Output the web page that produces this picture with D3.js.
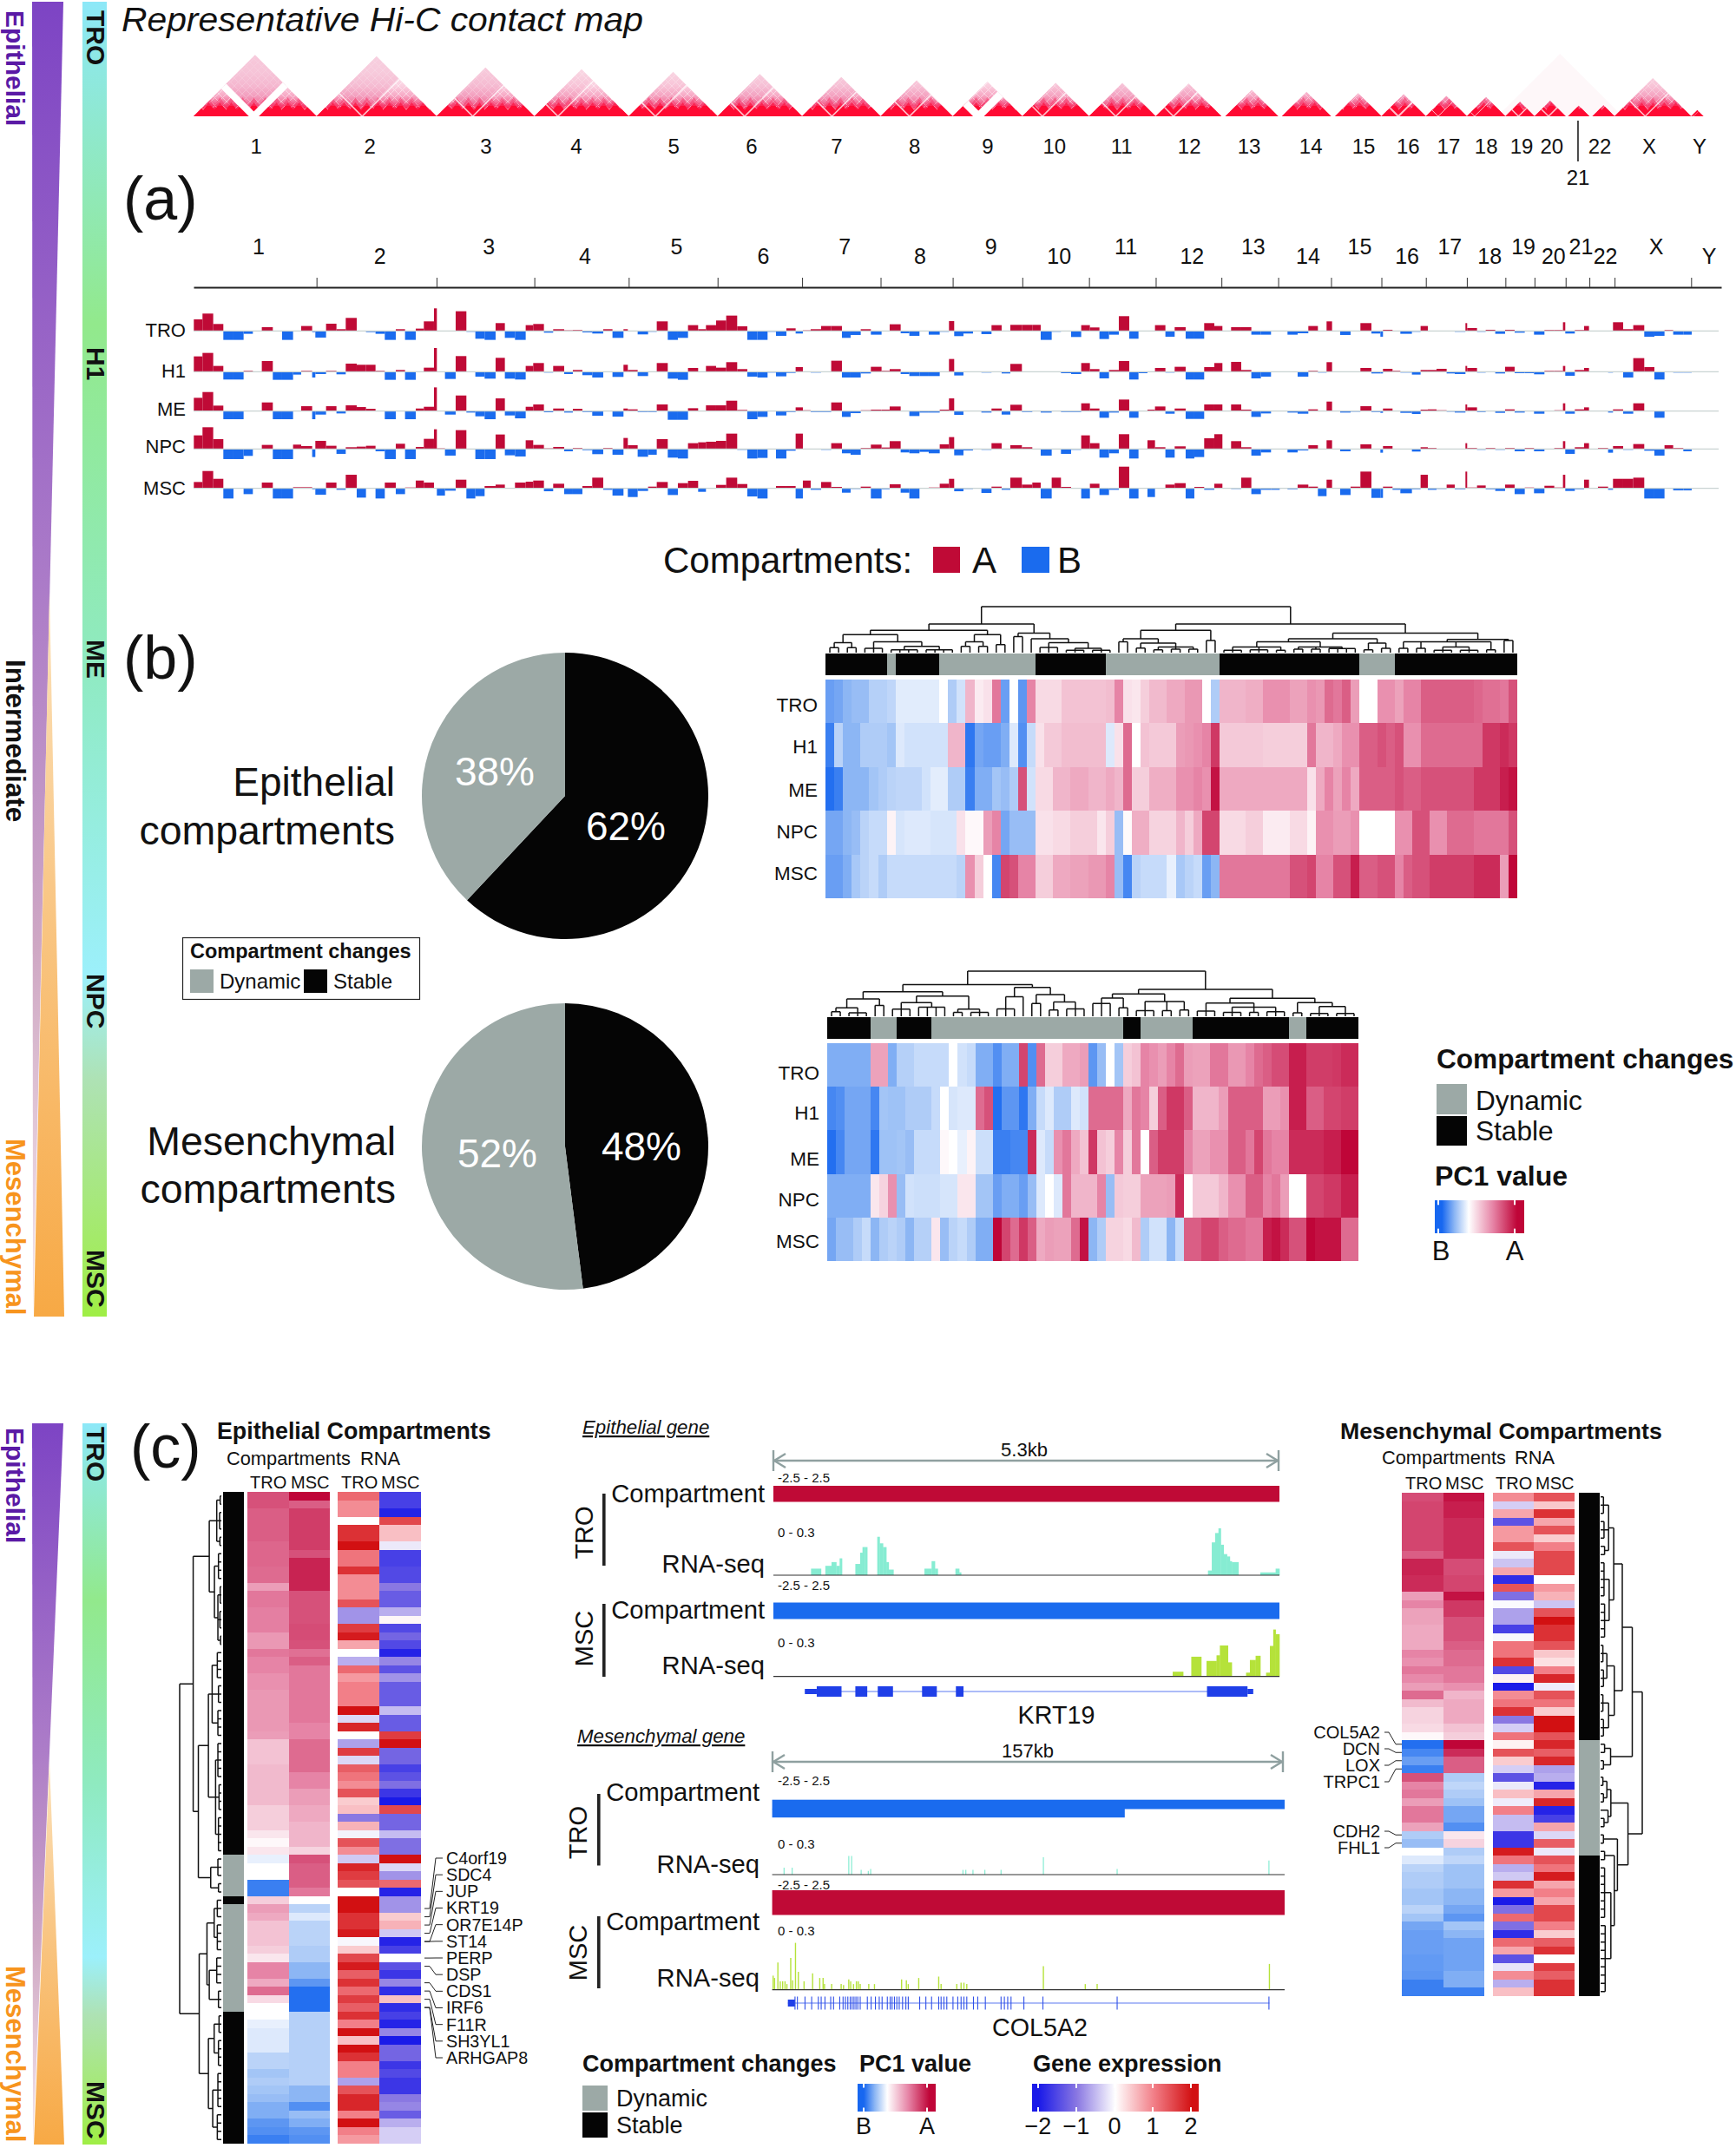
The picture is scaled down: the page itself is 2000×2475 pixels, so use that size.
<!DOCTYPE html>
<html><head><meta charset="utf-8">
<script src="https://cdn.jsdelivr.net/npm/d3@7"></script>
<style>html,body{margin:0;padding:0;background:#fff}svg{display:block}text{font-family:"Liberation Sans",Arial,sans-serif}</style>
</head><body><svg id="c" width="2000" height="2475" viewBox="0 0 2000 2475"></svg>
<script>
// ---------- chromosomes ----------
const chromNames=["1","2","3","4","5","6","7","8","9","10","11","12","13","14","15","16","17","18","19","20","21","22","X","Y"];
const chromMb=[249,243,198,191,180,171,159,146,141,135,135,133,115,107,102,90,83,78,59,63,48,51,155,59];
const hicLabelMb=[127,357,592,775,972,1130,1302,1460,1608,1743,1879,2016,2137,2262,2369,2459,2541,2617,2689,2750,2803,2847,2947,3049];
const centromere=[.49,.38,.37,.25,.30,.32,.38,.40,.37,.30,.40,.27,.07,.07,.08,.38,.30,.20,.45,.45,.10,.12,.40,.20];
const centromereGap=[8,1.6,1.6,1.6,1.6,1.6,1.6,1.6,9,1.6,1.6,1.6,0,0,0,2,1,1,1.5,1.5,0,0,1.5,.5];
const armTint=[.62,.5,.55,.3,.3,.4,.42,.38,.02,.3,.4,.35,.1,.1,.1,.2,.2,.2,.1,.1,.05,.05,.3,0];
const hicBandPx=[0,7,11,17,24,35,50,74];
const hicBandCol=["#ff0a33","#ff0a33","#f8386a","#f47aa0","#f7aac6","#fad0e0","#fce4ed","#feeef4"];
// ---------- compartment tracks (a) ----------
const trackNames=["TRO","H1","ME","NPC","MSC"];
const binEdges=[40,70,107,142,177,212,244,275,313,345,383,411,449,460,497,533,565,603,635,668,700,738,770,807,835,870,880,908,945,982,1013,1045,1083,1115,1150,1187,1213,1250,1282,1320,
1350,1383,1417,1455,1487,1525,1540,1574,1610,1640,1678,1713,1748,1783,1810,1845,1880,1918,1953,1988,2023,2052,2088,2120,2145,2172,2208,2243,2280,2310,2345,2380,2417,2445,2483,2513,2548,2580,2618,2650,
2668,2700,2733,2762,2797,2832,2862,2902,2938,2967,3005,3037,3072,3107,3137,3170,3203,3237,3273,3305,3336,3362,3398,3430,3468,3498,3532,3567,3595,3625,3660,3695,3728,3763,3793,3820,3855,3892,3925,3955,
3974,4002,4038,4072,4110,4141,4150,4183,4210,4250,4280,4305,4335,4370,4398,4435,4441,4475,4505,4538,4572,4605,4640,4672,4708,4742,4772,4780,4813,4845,4862,4893,4928,4945,4980,5015,5053,5088,5123,5153,5188,5217];
const trackTRO=[40,60,24,-31,-31,-10,0,13,0,-31,0,17,-4,-23,25,6,45,-2,-4,-10,-31,6,-31,8,33,78,0,0,68,-3,-27,-31,27,-24,-31,20,24,-6,6,2,
3,-5,-9,6,-24,6,-2,-12,-3,33,-31,-24,20,6,20,36,53,16,-31,-31,-3,-17,9,-9,2,6,17,17,-24,-14,6,-13,0,23,-8,-17,0,-13,-3,34,
-18,-9,0,-11,20,-2,21,21,21,-31,-3,0,-21,20,12,-28,-13,51,-27,0,0,20,-20,13,-27,-27,27,17,0,13,13,-13,-13,0,0,-13,-8,17,0,33,
0,-14,0,27,-9,-20,4,0,-10,-3,17,0,0,0,-3,27,10,-3,4,-10,4,-6,0,-13,3,3,30,-9,3,17,0,0,0,30,6,20,-20,-17,3,-13,-13];
const trackH1=[53,65,20,-27,-27,3,0,37,-28,-28,-10,3,-20,-8,3,-9,28,24,24,3,-28,6,-28,0,14,82,0,-25,54,0,-17,-24,48,-24,-27,20,30,-3,20,-8,
6,-12,-20,0,-18,24,6,-15,0,30,-24,-28,13,0,20,14,33,9,-17,-20,-3,-16,-4,16,0,-3,0,38,-20,-20,-6,17,3,9,-8,-15,-15,-15,-2,44,
-13,-2,0,-3,0,-6,27,-2,0,0,0,-5,-8,30,9,-23,6,37,-27,-5,0,13,-3,17,-27,-27,16,30,0,34,6,-23,-17,0,0,0,-17,3,-3,33,
0,-2,-2,13,-6,-6,10,3,-3,-10,6,6,10,-6,-8,20,13,-3,0,-6,17,-5,-5,-9,3,3,20,-14,6,13,0,0,-3,0,-20,47,16,-27,0,-3,-3];
const trackME=[46,66,19,-28,-28,0,0,30,-28,-28,0,17,-28,-12,17,-8,20,14,8,0,-28,0,-28,9,15,82,0,-12,54,-5,-18,-28,44,-15,-25,15,23,-4,9,-5,
8,-3,-16,0,-19,9,6,-3,-3,23,-30,-30,10,0,20,20,36,4,-28,-20,0,-15,-3,13,3,-3,-3,30,-20,-7,3,5,5,16,0,-17,-5,-5,5,44,
-13,0,0,-5,9,-12,22,-3,0,-5,0,-3,-3,27,9,-23,-5,40,-23,0,5,16,-9,9,-27,-27,23,23,0,23,5,-20,-8,0,0,-5,-9,6,0,33,
0,-5,-2,17,-3,-6,9,0,-6,-10,5,6,3,-2,-5,23,13,-3,0,-6,6,-5,0,-9,0,3,27,-9,6,13,0,0,-5,6,-9,27,0,-23,0,0,0];
const trackNPC=[47,75,34,-35,-35,-24,0,14,-35,-35,15,10,-28,28,11,-17,6,8,11,-8,-35,18,-35,7,35,68,2,-23,65,0,-35,-35,50,-22,-26,30,14,2,7,-8,
3,-4,-18,3,-20,38,13,-27,-20,34,-30,-33,20,23,25,28,53,-3,-33,-31,0,-33,-6,53,0,0,-3,20,-15,-20,3,15,5,27,-12,-15,-10,-15,16,41,
-22,-5,0,-3,20,0,13,6,-2,-23,0,-17,-3,47,20,-30,-15,51,-33,0,30,6,-30,9,-33,-28,37,51,0,27,6,-23,-12,0,0,-12,-5,13,0,30,
0,-8,-2,16,0,-13,10,0,0,-9,6,3,0,-2,-2,20,3,-3,3,-3,3,-8,3,-8,0,3,27,-17,6,20,0,3,-13,10,-3,17,-6,-23,13,3,-8];
const trackMSC=[22,60,33,-35,0,-20,0,20,-35,-35,4,4,-3,-22,20,-5,47,-32,0,-35,20,-20,3,27,20,0,-25,-8,30,-35,-27,8,13,0,20,23,27,-10,16,-20,
-20,8,37,-5,-25,0,-30,-9,6,22,-23,18,26,-12,0,12,37,15,-28,-35,0,8,8,-35,27,-5,22,5,-15,-2,6,-35,-3,14,-15,-35,0,3,16,33,
-10,-2,0,-16,6,-5,37,13,20,-35,37,5,0,-35,16,-23,-5,75,-35,0,-30,0,13,18,-35,5,-5,16,0,-2,37,-20,-5,-5,0,-3,13,6,-27,30,
0,-23,6,58,-33,-33,6,-5,-17,-3,47,-5,-2,13,-3,58,3,10,-3,-9,13,-20,3,-17,9,3,47,-9,-3,30,0,6,-5,33,33,37,-35,-35,0,-7,-7];
// ---------- pies (b) ----------
const pieEpi=[{k:"Stable",v:62},{k:"Dynamic",v:38}];
const pieMes=[{k:"Stable",v:48},{k:"Dynamic",v:52}];
// ---------- heatmap (b) epithelial ----------
const h1TRO=[-65,-60,-50,-45,-45,-32,-32,-28,-13,-13,-13,-13,-13,0,-35,-20,30,8,12,55,-65,0,-70,50,15,15,15,25,25,25,25,25,27,50,12,10,20,28,28,35,35,42,42,0,-35,30,30,30,33,33,45,45,45,38,38,45,42,60,55,65,40,0,0,45,45,38,50,50,65,65,65,65,65,65,62,58,58,55,70];
const h1H1=[-85,-30,-50,-50,-35,-35,-35,-40,-15,-20,-20,-20,-20,-20,30,30,-90,-60,-65,-65,-55,-15,-75,-25,12,22,22,27,27,27,27,27,-15,12,60,0,25,22,22,22,40,42,45,50,80,22,22,22,22,22,20,20,20,20,20,55,30,30,35,45,45,65,65,70,65,70,45,45,60,60,60,60,60,60,60,80,80,85,80];
const h1ME=[-95,-85,-50,-50,-50,-40,-35,-30,-28,-28,-28,-20,-12,-12,-35,-35,-85,-55,-55,-40,-45,-35,70,-20,15,15,30,30,35,35,30,30,35,30,60,20,20,33,33,33,45,45,50,45,95,35,35,35,35,35,35,35,35,35,35,12,35,50,38,50,35,65,65,65,65,70,65,65,70,70,70,70,70,70,80,80,80,90,95];
const h1NPC=[-60,-60,-50,-45,-30,-25,-25,5,-18,-15,-15,-15,-18,-18,-18,12,3,3,40,50,-60,-45,-45,-45,12,12,15,15,20,20,20,10,20,-45,2,33,33,18,18,18,30,20,35,75,75,15,15,15,20,20,8,8,8,15,15,5,45,45,40,40,45,0,0,0,0,45,45,70,70,45,45,60,60,60,55,55,55,55,70];
const h1MSC=[-65,-65,-55,-38,-30,-25,-35,-25,-25,-25,-25,-25,-25,-25,-25,-30,45,20,0,-80,75,70,50,50,20,20,35,35,38,38,42,42,50,-45,-80,-30,-25,-25,-25,-10,-38,-30,-25,-65,-50,55,55,55,55,55,55,55,55,70,70,75,50,50,70,70,90,65,65,70,70,50,65,70,70,78,78,78,78,78,85,85,85,40,100];
const h1Changes=[["S",7],["D",1],["S",5],["D",11],["S",8],["D",13],["S",16],["D",4],["S",14]];
const h1Tree=[160,[100,[78,[63,[35,[17,0,0],[17,0,0]],[38,[15,0,0,0],[22,[10,0,0,0,0],[10,0,0,0,0]]]],[63,[38,[22,0,0],[22,0,0]],[28,0,0]]],[68,[56,0,0],[48,0,[35,[18,0,0,0],[15,[8,0,0,0],[8,0,0,0]]]]]],
[100,[78,[48,[38,0,0],[33,[16,0,0],[20,[10,0,0],[12,0,0],[12,0,0]]]],[42,0,0]],[68,[48,[38,[20,[8,0,0,0],[10,0,0,0],[8,0,0]],[20,[12,0,0],[12,0,0],[14,0,0,0,0]]],[33,[10,0,0],[15,0,0]]],[46,[38,[15,0,0],[15,0,0],[20,[8,0,0,0],[8,0,0,0]],[10,0,0]],[42,0,0]]]]];
// ---------- heatmap (b) mesenchymal ----------
const h2TRO=[-55,-55,-55,-55,-55,38,38,-55,-32,-32,-25,-25,-25,-25,0,-20,-25,-55,-55,-75,-55,-55,75,-75,60,20,20,35,35,40,-70,-45,0,-40,20,25,50,45,40,50,60,40,38,38,55,55,42,42,50,60,65,72,72,90,90,78,78,78,80,85,85];
const h2H1=[-80,-75,-60,-60,-60,-80,-40,-42,-42,-35,-35,-35,-25,0,-18,-15,-15,60,70,-95,-70,-70,-90,-55,-25,-15,-35,-35,-15,-20,60,60,60,60,35,55,50,20,65,80,80,65,30,30,30,40,65,65,65,65,40,40,45,90,90,65,65,75,75,78,78];
const h2ME=[-95,-80,-60,-60,-60,-90,-42,-42,-40,-45,-25,-25,-25,3,0,-10,5,-22,-22,-85,-85,-80,-80,85,-15,-25,45,55,35,25,80,25,20,50,20,55,0,65,78,78,78,50,38,38,45,45,65,65,55,75,55,50,50,85,85,85,85,90,90,100,100];
const h2NPC=[-55,-55,-55,-55,-55,10,18,45,-45,-20,-22,-22,-22,-18,-18,10,10,-40,-40,-65,-55,-55,-65,-45,-15,0,-15,55,30,30,30,50,-45,22,20,20,38,38,38,40,85,0,22,22,22,30,45,45,65,65,50,55,40,0,0,75,75,80,80,90,90];
const h2MSC=[-60,-45,-45,-35,-25,-50,-35,-30,-35,-50,-32,-32,10,-45,-30,-25,-35,-55,-55,100,75,60,80,65,35,40,38,38,60,95,-50,-35,18,18,15,28,-35,-20,-20,-50,-25,65,65,75,75,65,60,60,55,55,90,95,85,70,70,100,95,95,95,60,60];
const h2Changes=[["S",5],["D",3],["S",4],["D",22],["S",2],["D",6],["S",11],["D",2],["S",6]];
const h2Tree=[158,[111,[86,[61,[30,[16,0,0],[12,0,0,0]],[38,0,0]],[71,[48,[25,0,0,0],[32,0,0,0,0]],[25,[14,0,0],[14,0,0,0]]]],[101,[68,[26,0,0,0],0],[76,[45,0,0],[50,[22,0,0],[26,0,0,0]]]]],
[94,[78,[64,[45,0,0,0],[30,0,0]],[52,[20,0,0,0],[20,0,0],[22,0,0]]],[63,[46,[18,0,0,0],[32,[14,0,0,0],[14,0,0],[16,0,0,0]]],[48,[12,0,0],[34,[10,0,0,0],[10,0,0,0]]]]]];
// ---------- panel (c) epithelial compartments ----------
const epiCompTRO=[70,70,65,65,65,65,62,62,62,60,60,40,55,55,52,52,52,42,42,55,50,50,45,45,42,42,42,42,42,40,25,25,25,28,28,28,28,28,20,20,20,10,3,10,-10,0,0,-85,-85,20,40,35,25,25,25,20,10,50,50,35,60,15,0,0,-10,-15,-15,-15,-30,-30,-40,-35,-40,-45,-55,-55,-70,-75,-85];
const epiCompMSC=[100,65,78,78,78,78,78,70,88,88,88,88,70,70,70,70,72,72,70,58,65,55,55,55,55,55,55,55,50,50,60,60,60,60,50,50,40,40,35,35,30,30,30,18,70,65,65,65,55,0,-30,-15,-30,-30,-30,-35,-35,-50,-50,-70,-95,-95,-95,-32,-32,-32,-32,-32,-32,-32,-32,-32,-50,-50,-75,-45,-55,-70,-75];
const epiRnaTRO=[60,45,45,0,85,85,100,55,55,85,45,45,45,70,-40,-40,80,95,35,0,-30,60,40,50,50,50,100,-15,90,0,-35,80,-15,65,55,45,70,20,25,-50,30,-5,70,45,-20,90,80,70,0,100,100,85,85,95,-3,20,75,95,65,85,60,80,65,85,50,100,25,100,85,50,50,-35,70,90,90,50,100,50,40];
const epiRnaMSC=[-80,-80,-95,75,25,25,-8,-80,-80,-75,-75,-50,-65,-65,-30,3,-75,-60,-75,-95,-45,-70,-40,-65,-65,-65,-25,-65,-65,80,100,-60,-60,-80,-70,-55,-85,-100,75,-60,-60,-25,-55,-55,100,-15,-40,60,-95,-40,-40,20,30,-20,-95,-80,0,-70,-85,-45,-90,25,-90,-80,-95,-45,-100,-60,-60,-85,-75,-85,-85,-50,-45,-65,-30,-18,-18];
const epiChanges=[["S",44],["D",5],["S",1],["D",13],["S",16]];
const epiTree=[145,[98,[42,[16,[4,0,0],[6,0,0,0],[5,0,0]],[24,[10,0,0,0,0],[12,[4,0,0,0],[5,0,0,0],[3,0,0]]]],[80,[45,[32,[14,0,0,0,0],[10,0,0,0],[12,0,0,0,0]],[20,[12,0,0,0,0,0],[8,0,0,0,0],[10,0,0,0,0,0]]],[37,[12,0,0,0],[10,0,0]]]],
[77,[50,[25,[14,0,0,0],[14,0,0,0,0]],[42,[16,0,0,0,0],[10,0,0,0]]],[45,[25,[8,0,0,0],[10,0,0,0,0]],[30,[12,0,0,0,0,0],[14,0,0,0,0]]]]];
const epiGenes=["C4orf19","SDC4","JUP","KRT19","OR7E14P","ST14","PERP","DSP","CDS1","IRF6","F11R","SH3YL1","ARHGAP8"];
const epiGeneRows=[50,51,52,53,54,54,56,57,59,60,61,62,62];
// ---------- panel (c) mesenchymal compartments ----------
const mesCompTRO=[72,75,75,75,75,75,75,65,88,88,85,85,40,50,38,38,35,35,35,50,45,55,48,40,60,28,18,18,15,3,-95,-80,-65,-85,70,50,55,40,55,55,38,-35,-45,0,-15,-30,-35,-35,-40,-40,-30,-40,-60,-65,-65,-65,-68,-68,-70,-85,-85];
const mesCompMSC=[95,90,90,85,85,85,85,85,72,72,75,75,95,80,80,70,70,70,65,60,60,55,55,45,30,35,35,35,25,20,100,85,65,65,-35,-28,-35,-42,-60,-60,-75,10,18,-35,-28,-42,-42,-42,-50,-50,-60,-70,-40,-50,-62,-62,-62,-62,-55,-55,-85];
const mesRnaTRO=[45,-18,35,-70,40,40,70,-8,-22,35,-90,70,-55,-2,-35,-35,-80,-3,55,55,85,-75,5,-100,45,55,85,-50,-18,55,5,70,20,-18,-70,-8,25,-7,50,-25,-25,-85,-85,95,55,-30,-20,85,40,-100,-55,60,-55,-90,60,35,-70,-10,45,-30,25];
const mesRnaMSC=[70,22,85,35,70,20,50,75,75,75,0,40,30,-22,70,100,85,85,70,22,12,50,90,-7,70,55,20,100,100,70,90,65,90,-35,-30,-95,35,90,-95,-80,35,-15,65,-8,70,55,95,35,50,35,75,75,50,20,65,85,0,80,65,85,85];
const mesChanges=[["S",30],["D",14],["S",17]];
const mesTree=[146,[111,[76,[46,[28,[10,0,0,0],[12,0,0,0],[14,0,0]],[30,[12,0,0,0,0,0],[14,0,0,0,0,0]]],[48,[22,[8,0,0,0],[10,0,0,0]],[28,[8,0,0,0],[10,0,0,0]]]],[35,[14,0,0],[10,0,0]]],
[96,[36,[22,[8,0,0],[10,0,0]],[26,0,[12,0,0]]],[59,[10,0,0],[48,[14,0,0],[36,[14,0,0,0,0,0,0,0],[16,0,0,0,0,0,0,0,0,0]]]]]];
const mesGenes=["COL5A2","DCN","LOX","TRPC1","CDH2","FHL1"];
const mesGeneRows=[30,31,32,33,41,42];
// ---------- browser tracks (c) : [start,end,height%] on locus units ----------
const krtTroRna=[[537,558,14],[567,580,20],[580,590,28],[590,597,20],[597,602,36],[630,640,24],[640,645,48],[645,650,60],[650,655,60],[676,681,82],[681,688,68],[688,695,60],[695,700,28],[700,710,12],[775,790,14],[790,797,30],[797,803,14],[840,848,14],[848,852,6],[1370,1378,10],[1378,1385,70],[1385,1392,90],[1392,1397,100],[1397,1403,65],[1403,1410,45],[1410,1416,40],[1416,1420,30],[1420,1434,28],[1480,1512,6],[1512,1520,14]];
const krtMscRna=[[1296,1318,10],[1335,1356,42],[1367,1388,33],[1388,1395,45],[1395,1412,66],[1412,1420,30],[1450,1458,8],[1458,1470,35],[1470,1480,44],[1492,1500,8],[1500,1507,65],[1507,1512,100],[1512,1520,90]];
const krtExons=[[549,601],[630,655],[677,709],[770,801],[841,857],[1368,1453]];
const krtUtrs=[[524,549],[1453,1465]];
const colTroRna=[[480,15],[497,15],[616,40],[622,40],[642,10],[657,8],[662,12],[856,10],[862,10],[877,10],[902,10],[936,10],[1025,37],[1180,12],[1499,30]];
const colMscRna=[[457,30],[460,25],[467,58],[472,18],[477,18],[482,18],[486,12],[494,68],[498,20],[504,100],[510,38],[522,18],[540,35],[555,25],[562,25],[565,12],[580,12],[600,12],[605,10],[616,22],[620,18],[626,12],[632,18],[636,18],[640,12],[658,12],[670,12],[727,22],[737,20],[741,12],[763,25],[805,28],[810,12],[843,12],[852,15],[858,15],[864,12],[1025,50],[1113,12],[1138,12],[1500,55]];
const colExons=[503,508,524,538,552,558,566,578,584,597,604,609,614,619,623,627,631,635,640,655,663,672,680,686,697,703,707,712,717,722,729,736,741,765,778,790,805,810,816,822,835,845,852,858,864,878,887,903,936,943,950,957,984,1024,1180,1499];
const geneTicks=[-2,-1,0,1,2];

[trackTRO,trackH1,trackME,trackNPC,trackMSC].forEach(a=>{if(a.length!==binEdges.length-1)throw new Error("track "+a.length)});

// ---------- setup ----------
const RED="#bf0a36",BLUE="#1a6bee",GRAY="#9ca9a6",BLACK="#050505";
const svg=d3.select("#c"),defs=svg.append("defs");
function T(x,y,s,o={}){const t=svg.append("text").text(s).attr("font-size",o.size||24).attr("fill",o.fill||"#111")
 .attr("text-anchor",o.anchor||"start");
 if(o.rot!==undefined)t.attr("transform",`translate(${x},${y}) rotate(${o.rot})`);else t.attr("x",x).attr("y",y);
 if(o.weight)t.attr("font-weight",o.weight); if(o.italic)t.attr("font-style","italic");
 if(o.under)t.attr("text-decoration","underline"); if(o.mid)t.attr("dy",".35em"); return t;}
function grad(id,stops,x2=0,y2=1){const g=defs.append("linearGradient").attr("id",id).attr("x1",0).attr("y1",0).attr("x2",x2).attr("y2",y2);
 stops.forEach(([o,c])=>g.append("stop").attr("offset",o).attr("stop-color",c));}
const pc=d3.scaleLinear().domain([-100,-50,0,50,100]).range(["#1767f0","#8cb6f4","#ffffff","#e684a6","#bf0538"]);
const ge=d3.scaleLinear().domain([-100,-50,0,50,100]).range(["#1a1ae8","#8a78e2","#ffffff","#f27f88","#d21012"]);
const cum=d3.cumsum(chromMb), mid=i=>cum[i]-chromMb[i]/2;
const xG=d3.scaleLinear().domain([0,3093]).range([223,1983]);

// ---------- left strips ----------
grad("gPur",[[0,"#7d44c4"],[.45,"#ac7cc8"],[.72,"#cfa8c4"],[1,"#f5e8ec"]]);
grad("gOra",[[0,"#fbe2bc"],[.4,"#f9c888"],[1,"#f7a945"]]);
grad("gStrip",[[0,"#8de8f8"],[.245,"#92e98c"],[.5,"#8feac0"],[.74,"#9cf0fb"],[.82,"#aee2b4"],[1,"#9fee45"]]);
const line=d3.line();
function strip(y0,y1,apex,labels){
 svg.append("path").attr("d",line([[37,y0],[73,y0],[38,y1]])+"Z").attr("fill","url(#gPur)");
 svg.append("path").attr("d",line([[57,apex],[74,y1],[39,y1]])+"Z").attr("fill","url(#gOra)");
 svg.append("rect").attr("x",95).attr("y",y0).attr("width",28).attr("height",y1-y0).attr("fill","url(#gStrip)");
 labels.forEach(l=>T(l[0],l[1],l[2],{rot:90,size:l[4]||30,weight:"bold",fill:l[3]||"#111"}));
}
strip(2,1517,683,[[7,12,"Epithelial","#5a1aa5"],[7,760,"Intermediate","#111",31.5],[7,1312,"Mesenchymal","#f7941d",31],[100,12,"TRO"],[100,400,"H1"],[100,737,"ME"],[100,1122,"NPC"],[100,1440,"MSC"]]);
strip(1640,2471,2030,[[7,1645,"Epithelial","#5a1aa5"],[7,2265,"Mesenchymal","#f7941d",31],[100,1644,"TRO"],[100,2398,"MSC"]]);

// ---------- Hi-C ----------
T(140,36,"Representative Hi-C contact map",{size:38,italic:true}).attr("textLength",601).attr("lengthAdjust","spacingAndGlyphs");
const hicBase=134;
const gHic=defs.append("linearGradient").attr("id","gHic").attr("gradientUnits","userSpaceOnUse").attr("x1",0).attr("x2",0).attr("y1",hicBase).attr("y2",hicBase-74);
hicBandPx.forEach((p,i)=>gHic.append("stop").attr("offset",p/74).attr("stop-color",hicBandCol[i]));
const hatch=defs.append("pattern").attr("id","pHatch").attr("patternUnits","userSpaceOnUse").attr("width",9).attr("height",9);
hatch.append("path").attr("d","M0 0L9 9M9 0L0 9").attr("stroke","#fff").attr("stroke-width",1).attr("opacity",.45);
const teeth=defs.append("pattern").attr("id","pTeeth").attr("patternUnits","userSpaceOnUse").attr("width",13).attr("height",100).attr("y",hicBase-100);
teeth.append("path").attr("d","M0 93L6.5 84L13 93Z").attr("fill","#ff0a33");
teeth.append("path").attr("d","M0 88L6.5 78L13 88Z").attr("fill","#f53a6c").attr("opacity",.55);
const hicEnd=3057;
svg.append("path").attr("d",line([[xG(2640),hicBase],[xG((2640+2893)/2),hicBase-(xG(2893)-xG(2640))/2],[xG(2893),hicBase]])+"Z").attr("fill","#fdeff4").attr("opacity",.5);
chromNames.forEach((n,i)=>{
 let a=xG(cum[i]-chromMb[i]),b=xG(i===23?hicEnd:cum[i]);
 const gap=centromereGap[i],c=a+(b-a)*centromere[i];
 if(gap===0)a=c;
 const g=svg.append("g"),tri=line([[a,hicBase],[(a+b)/2,hicBase-(b-a)/2],[b,hicBase]])+"Z";
 g.append("path").attr("d",tri).attr("fill","url(#gHic)");
 g.append("path").attr("d",tri).attr("fill","url(#pHatch)");
 if(gap>0)g.append("path").attr("d",line([[c,hicBase],[(a+c)/2,hicBase-(c-a)/2],[(a+b)/2,hicBase-(b-a)/2],[(c+b)/2,hicBase-(b-c)/2]])+"Z").attr("fill","#ec8fb4").attr("opacity",armTint[i]*.6);
 g.append("path").attr("d",tri).attr("fill","url(#pTeeth)");
 g.append("path").attr("d",line([[a,hicBase],[a+7,hicBase-7],[b-7,hicBase-7],[b,hicBase]])+"Z").attr("fill","#ff0a33");
 if(gap>0)g.append("path").attr("d",line([[(a+c)/2,hicBase-(c-a)/2],[c,hicBase],[(c+b)/2,hicBase-(b-c)/2]])).attr("fill","none").attr("stroke","#fff").attr("stroke-width",gap).attr("opacity",gap>3?1:.75);
});
chromNames.forEach((n,i)=>{ if(n==="21"){
  svg.append("line").attr("x1",xG(hicLabelMb[i])).attr("x2",xG(hicLabelMb[i])).attr("y1",139).attr("y2",186).attr("stroke","#111").attr("stroke-width",1.5);
  T(xG(hicLabelMb[i]),205,n,{size:24,anchor:"middle",mid:true});
 } else T(xG(hicLabelMb[i]),169,n,{size:24,anchor:"middle",mid:true});
});

// ---------- (a) ----------
T(142,253,"(a)",{size:70});
const axis=d3.axisTop(xG).tickValues(cum.slice(0,23)).tickSize(11).tickSizeOuter(0).tickFormat("");
const axG=svg.append("g").attr("transform","translate(0,331)").call(axis);
axG.select(".domain").attr("stroke","#222").attr("stroke-width",1.8);
axG.selectAll(".tick line").attr("stroke","#444").attr("stroke-width",1.1);
chromNames.forEach((n,i)=>T(xG(mid(i))+4,i%2?295:284,n,{size:25,anchor:"middle",mid:true}));
const xB=d3.scaleLinear().domain([40,5320]).range([223.3,1983.3]);
const hB=d3.scaleLinear().domain([0,100]).range([0,33.33]);
const baselines=[381.3,428.3,473.7,517.3,562.7];
[trackTRO,trackH1,trackME,trackNPC,trackMSC].forEach((vals,r)=>{
 const b=baselines[r];
 svg.append("g").selectAll("rect").data(vals).join("rect")
  .attr("x",(d,i)=>xB(binEdges[i])).attr("width",(d,i)=>xB(binEdges[i+1])-xB(binEdges[i]))
  .attr("y",d=>d>0?b-hB(d):b).attr("height",d=>hB(Math.abs(d))).attr("fill",d=>d>0?RED:BLUE);
 svg.append("line").attr("x1",223).attr("x2",1980).attr("y1",b).attr("y2",b).attr("stroke","#c9d3d2").attr("stroke-width",1.3);
});
const trackLabelY=[380,427,471,514,562];
trackNames.forEach((n,i)=>T(214,trackLabelY[i],n,{size:22,anchor:"end",mid:true}));
T(764,645,"Compartments:",{size:42,mid:true});
svg.append("rect").attr("x",1075).attr("y",630).attr("width",31).attr("height",30).attr("fill",RED);
T(1120,645,"A",{size:42,mid:true});
svg.append("rect").attr("x",1177).attr("y",630).attr("width",32).attr("height",30).attr("fill",BLUE);
T(1218,645,"B",{size:42,mid:true});

// ---------- (b) pies ----------
T(142,782,"(b)",{size:70});
const pie=d3.pie().sort(null).value(d=>d.v),arc=d3.arc().innerRadius(0).outerRadius(165);
function drawPie(data,cx,cy){const g=svg.append("g").attr("transform",`translate(${cx},${cy})`);
 g.selectAll("path").data(pie(data)).join("path").attr("d",arc).attr("fill",d=>d.data.k==="Stable"?BLACK:GRAY);}
drawPie(pieEpi,651,917);drawPie(pieMes,651,1321);
[[721,952,pieEpi[0].v],[570,889,pieEpi[1].v],[739,1321,pieMes[0].v],[573,1329,pieMes[1].v]].forEach(p=>T(p[0],p[1],p[2]+"%",{size:46,anchor:"middle",mid:true,fill:"#fff"}));
T(455,901,"Epithelial",{size:46,anchor:"end",mid:true});T(455,957,"compartments",{size:46.5,anchor:"end",mid:true});
T(456,1315,"Mesenchymal",{size:46.5,anchor:"end",mid:true});T(456,1370,"compartments",{size:46.5,anchor:"end",mid:true});
svg.append("rect").attr("x",210.5).attr("y",1080.5).attr("width",273).attr("height",71).attr("fill","#fff").attr("stroke","#222").attr("stroke-width",1.2);
T(219,1096,"Compartment changes",{size:23.5,weight:"bold",mid:true});
svg.append("rect").attr("x",219).attr("y",1117).attr("width",27).attr("height",27).attr("fill",GRAY);
T(253,1131,"Dynamic",{size:24,mid:true});
svg.append("rect").attr("x",350).attr("y",1117).attr("width",27).attr("height",27).attr("fill",BLACK);
T(384,1131,"Stable",{size:24,mid:true});

// ---------- shared heat + dendrogram helpers ----------
function expand(runs){return runs.flatMap(([k,n])=>d3.range(n).map(()=>k));}
function cells(rows,colScale,rowScale,color){
 const g=svg.append("g").attr("shape-rendering","crispEdges");
 rows.forEach((vals,r)=>g.append("g").selectAll("rect").data(vals).join("rect")
  .attr("x",(d,i)=>colScale(i)).attr("width",colScale.bandwidth()+.4).attr("y",rowScale(r)).attr("height",rowScale.bandwidth()+.4).attr("fill",color));
}
function dendro(tree,pos,hgt,horizontal){
 const root=d3.hierarchy(tree,d=>Array.isArray(d)?d.slice(1):null);
 root.leaves().forEach((l,i)=>{l.pos=i;l.h=0;});
 root.eachAfter(n=>{if(n.children){n.h=n.data[0];n.pos=(n.children[0].pos+n.children[n.children.length-1].pos)/2;}});
 const P=d3.path();
 root.each(n=>{if(!n.children)return;
  const ch=n.children,f=ch[0],l=ch[ch.length-1];
  if(!horizontal){P.moveTo(pos(f.pos),hgt(n.h));P.lineTo(pos(l.pos),hgt(n.h));
   ch.forEach(c=>{P.moveTo(pos(c.pos),hgt(n.h));P.lineTo(pos(c.pos),hgt(c.h));});}
  else{P.moveTo(hgt(n.h),pos(f.pos));P.lineTo(hgt(n.h),pos(l.pos));
   ch.forEach(c=>{P.moveTo(hgt(n.h),pos(c.pos));P.lineTo(hgt(c.h),pos(c.pos));});}
 });
 svg.append("path").attr("d",P.toString()).attr("fill","none").attr("stroke","#111").attr("stroke-width",1.5);
}
function chgColor(k){return k==="S"?BLACK:GRAY;}
function heatB(rows,changes,tree,x0,x1,ybar0,ybar1,yh0,yh1,ytree,labelYs){
 const n=rows[0].length,col=d3.scaleBand().domain(d3.range(n)).range([x0,x1]);
 const row=d3.scaleBand().domain(d3.range(5)).range([yh0,yh1]);
 cells(rows,col,row,pc);
 const bar=expand(changes);
 svg.append("g").attr("shape-rendering","crispEdges").selectAll("rect").data(bar).join("rect").attr("x",(d,i)=>col(i)).attr("width",col.bandwidth()+.4).attr("y",ybar0).attr("height",ybar1-ybar0).attr("fill",chgColor);
 dendro(tree,d3.scaleLinear().domain([0,n-1]).range([col(0)+col.bandwidth()/2,col(n-1)+col.bandwidth()/2]),d3.scaleLinear().domain([0,tree[0]]).range([ybar0-1,ytree]),false);
 trackNames.forEach((t,i)=>T(x0-9,labelYs[i],t,{size:22.5,anchor:"end",mid:true}));
}
heatB([h1TRO,h1H1,h1ME,h1NPC,h1MSC],h1Changes,h1Tree,951,1748,753,778,783,1035,699,[812,860,910,958,1006]);
heatB([h2TRO,h2H1,h2ME,h2NPC,h2MSC],h2Changes,h2Tree,953,1565,1172,1197,1202,1453,1119,[1236,1282,1335,1382,1430]);

// legend right (b)
T(1655,1231,"Compartment changes",{size:31.6,weight:"bold"});
svg.append("rect").attr("x",1655).attr("y",1249).attr("width",35).attr("height",35).attr("fill",GRAY);
svg.append("rect").attr("x",1655).attr("y",1286).attr("width",35).attr("height",34).attr("fill",BLACK);
T(1700,1268,"Dynamic",{size:31.6,mid:true});T(1700,1303,"Stable",{size:31.6,mid:true});
T(1653,1366,"PC1 value",{size:32,weight:"bold"});
grad("gPc",[[0,pc(-100)],[.08,pc(-100)],[.22,pc(-50)],[.38,"#fff"],[.65,pc(50)],[.92,pc(100)],[1,pc(100)]],1,0);
function pcBar(x,y,w,h,tb,ta){
 svg.append("rect").attr("x",x).attr("y",y).attr("width",w).attr("height",h).attr("fill","url(#gPc)");
 [tb,ta].forEach(t=>[y,y+h-h*.14].forEach(yy=>svg.append("rect").attr("x",t-1).attr("y",yy).attr("width",2).attr("height",h*.14).attr("fill","#fff")));
}
pcBar(1653,1383,103,38,1657,1745);
T(1660,1441,"B",{size:31,anchor:"middle",mid:true});T(1745,1441,"A",{size:31,anchor:"middle",mid:true});

// ---------- (c) side heatmaps ----------
T(150,1691,"(c)",{size:70});
function heatC(comp,rna,changes,tree,o){
 const n=comp[0].length,row=d3.scaleBand().domain(d3.range(n)).range([o.y0,o.y1]);
 const c1=d3.scaleBand().domain([0,1]).range(o.comp),c2=d3.scaleBand().domain([0,1]).range(o.rna);
 const tr=m=>m[0].map((_,i)=>m.map(r=>r[i]));
 cells(tr(comp),c1,row,pc);cells(tr(rna),c2,row,ge);
 svg.append("g").attr("shape-rendering","crispEdges").selectAll("rect").data(expand(changes)).join("rect").attr("x",o.bar[0]).attr("width",o.bar[1]-o.bar[0]).attr("y",(d,i)=>row(i)).attr("height",row.bandwidth()+.4).attr("fill",chgColor);
 dendro(tree,d3.scaleLinear().domain([0,n-1]).range([row(0)+row.bandwidth()/2,row(n-1)+row.bandwidth()/2]),d3.scaleLinear().domain([0,tree[0]]).range(o.tree),true);
 return row;
}
const epiRow=heatC([epiCompTRO,epiCompMSC],[epiRnaTRO,epiRnaMSC],epiChanges,epiTree,{y0:1719,y1:2470,comp:[285,380],rna:[389,485],bar:[257,281],tree:[255,207]});
const mesRow=heatC([mesCompTRO,mesCompMSC],[mesRnaTRO,mesRnaMSC],mesChanges,mesTree,{y0:1720,y1:2299.5,comp:[1615.3,1710],rna:[1719.5,1814],bar:[1818.6,1842.5],tree:[1844,1892]});
T(250,1658,"Epithelial Compartments",{size:26.8,weight:"bold"});
T(261,1688,"Compartments",{size:21.8});T(415,1688,"RNA",{size:21.8});
[[288,"TRO"],[335,"MSC"],[393,"TRO"],[439,"MSC"]].forEach(p=>T(p[0],1715,p[1],{size:20}));
T(1544,1658,"Mesenchymal Compartments",{size:26.7,weight:"bold"});
T(1592,1687,"Compartments",{size:21.8});T(1745,1687,"RNA",{size:21.8});
[[1619,"TRO"],[1665,"MSC"],[1723,"TRO"],[1769,"MSC"]].forEach(p=>T(p[0],1716,p[1],{size:20}));
const epiLabY=d3.scaleLinear().domain([0,12]).range([2141,2371]);
epiGenes.forEach((g,i)=>{const ry=epiRow(epiGeneRows[i])+epiRow.bandwidth()/2,ly=epiLabY(i);
 T(514,ly,g,{size:19.7,mid:true});
 svg.append("path").attr("d",line([[489,ry],[495,ry],[502,ly],[510,ly]])).attr("fill","none").attr("stroke","#222").attr("stroke-width",1);});
const mesLabY=[1996,2015,2034,2053,2110,2129];
mesGenes.forEach((g,i)=>{const ry=mesRow(mesGeneRows[i])+mesRow.bandwidth()/2,ly=mesLabY[i];
 T(1590,ly,g,{size:20,anchor:"end",mid:true});
 svg.append("path").attr("d",line([[1595,ly],[1600,ly],[1608,ry],[1615,ry]])).attr("fill","none").attr("stroke","#222").attr("stroke-width",1);});

// ---------- (c) browser ----------
const xK=d3.scaleLinear().domain([458,1520]).range([891,1474]);
const xC=d3.scaleLinear().domain([455,1532]).range([889.6,1480]);
const hR=d3.scaleLinear().domain([0,100]).range([0,54]);
const TEAL="#86ecd2",GREEN="#b5e23a",ARC="#8fa0a0",EXON="#1f3fe8";
function sizeArrow(x0,x1,y,barH){const g=svg.append("g").attr("fill","none").attr("stroke",ARC).attr("stroke-width",2.4);
 g.append("path").attr("d",line([[x0+1,y],[x1-1,y]]));
 g.append("path").attr("d",line([[x0+14,y-8],[x0+1,y],[x0+14,y+8]]));
 g.append("path").attr("d",line([[x1-14,y-8],[x1-1,y],[x1-14,y+8]]));
 g.append("path").attr("d",line([[x0,y-barH],[x0,y+barH]]));g.append("path").attr("d",line([[x1,y-barH],[x1,y+barH]]));}
function rowLabels(cellName,barX,x,cy,by0,by1,rightX,compY,rnaY){
 T(x,cy,cellName,{rot:-90,size:29,anchor:"middle",mid:true});
 svg.append("rect").attr("x",barX).attr("y",by0).attr("width",3.6).attr("height",by1-by0).attr("fill","#222");
 T(rightX,compY,"Compartment",{size:29.2,anchor:"end"});T(rightX,rnaY,"RNA-seq",{size:29.2,anchor:"end"});
}
function rangeTxt(x,y,s){T(x,y,s,{size:15});}
function binsTrack(data,xs,base,fill){svg.append("g").selectAll("rect").data(data).join("rect").attr("x",d=>xs(d[0])).attr("width",d=>xs(d[1])-xs(d[0])+.3).attr("y",d=>base-hR(d[2])).attr("height",d=>hR(d[2])).attr("fill",fill);}
function tickTrack(data,xs,base,col,w){svg.append("g").selectAll("line").data(data).join("line").attr("x1",d=>xs(d[0])).attr("x2",d=>xs(d[0])).attr("y1",base).attr("y2",d=>base-hR(d[1])).attr("stroke",col).attr("stroke-width",w);}
function baseLine(x0,x1,y){svg.append("line").attr("x1",x0).attr("x2",x1).attr("y1",y).attr("y2",y).attr("stroke","#333").attr("stroke-width",1.2);}

T(671,1652,"Epithelial gene",{size:22.3,italic:true,under:true});
sizeArrow(891,1473,1683,12);T(1180,1678,"5.3kb",{size:22,anchor:"middle"});
rowLabels("TRO",694,673,1766,1721,1804,881,1730.6,1812);
rangeTxt(896,1708,"-2.5 - 2.5");
svg.append("rect").attr("x",891).attr("y",1712).attr("width",583).attr("height",18.5).attr("fill",RED);
rangeTxt(896,1771,"0 - 0.3");binsTrack(krtTroRna,xK,1815,TEAL);baseLine(891,1474,1815);
rowLabels("MSC",694,673,1888,1848,1932,881,1865,1929);
rangeTxt(896,1832,"-2.5 - 2.5");
svg.append("rect").attr("x",891).attr("y",1846.5).attr("width",583).attr("height",19).attr("fill",BLUE);
rangeTxt(896,1897.5,"0 - 0.3");binsTrack(krtMscRna,xK,1931.6,GREEN);baseLine(891,1474,1931.6);
svg.append("line").attr("x1",xK(524)).attr("x2",xK(1465)).attr("y1",1949).attr("y2",1949).attr("stroke","#5a78f0").attr("stroke-width",1);
svg.append("g").selectAll("rect").data(krtExons).join("rect").attr("x",d=>xK(d[0])).attr("width",d=>xK(d[1])-xK(d[0])).attr("y",1943).attr("height",12).attr("fill",EXON);
svg.append("g").selectAll("rect").data(krtUtrs).join("rect").attr("x",d=>xK(d[0])).attr("width",d=>xK(d[1])-xK(d[0])).attr("y",1946).attr("height",6).attr("fill",EXON);
T(1217,1986,"KRT19",{size:28.7,anchor:"middle"});

T(665,2008,"Mesenchymal gene",{size:22.3,italic:true,under:true});
sizeArrow(890,1478,2030,12);T(1184,2025,"157kb",{size:22,anchor:"middle"});
rowLabels("TRO",688,666,2111.6,2067,2149.5,875,2075,2157.7);
rangeTxt(896,2057,"-2.5 - 2.5");
svg.append("rect").attr("x",xC(455)).attr("y",2073.7).attr("width",xC(1532)-xC(455)).attr("height",10.8).attr("fill",BLUE);
svg.append("rect").attr("x",xC(455)).attr("y",2084).attr("width",xC(1196)-xC(455)).attr("height",10.2).attr("fill",BLUE);
rangeTxt(896,2129.5,"0 - 0.3");tickTrack(colTroRna,xC,2160,TEAL,1.2);baseLine(889.6,1480,2160);
rowLabels("MSC",688,666,2250,2208,2291,875,2224,2289);
rangeTxt(896,2177,"-2.5 - 2.5");
svg.append("rect").attr("x",xC(455)).attr("y",2178).attr("width",xC(1532)-xC(455)).attr("height",28.5).attr("fill",RED);
rangeTxt(896,2230,"0 - 0.3");tickTrack(colMscRna,xC,2292.6,GREEN,1.4);baseLine(889.6,1480,2292.6);
svg.append("line").attr("x1",xC(488)).attr("x2",xC(1500)).attr("y1",2308).attr("y2",2308).attr("stroke","#5a78f0").attr("stroke-width",1);
svg.append("rect").attr("x",xC(488)).attr("width",xC(503)-xC(488)).attr("y",2304).attr("height",8).attr("fill",EXON);
svg.append("g").selectAll("line").data(colExons).join("line").attr("x1",d=>xC(d)).attr("x2",d=>xC(d)).attr("y1",2300.5).attr("y2",2315.5).attr("stroke","#2f4fe8").attr("stroke-width",1.1);
T(1198,2346,"COL5A2",{size:28.7,anchor:"middle"});

// bottom legends
T(671,2387,"Compartment changes",{size:27,weight:"bold"});
T(990,2387,"PC1 value",{size:27,weight:"bold"});
T(1190,2387,"Gene expression",{size:27,weight:"bold"});
svg.append("rect").attr("x",671).attr("y",2403).attr("width",29).attr("height",29).attr("fill",GRAY);
svg.append("rect").attr("x",671).attr("y",2434).attr("width",29).attr("height",29).attr("fill",BLACK);
T(710,2418,"Dynamic",{size:27,mid:true});T(710,2449,"Stable",{size:27,mid:true});
pcBar(988,2401,90,32,995,1068);
T(995,2450,"B",{size:27,anchor:"middle",mid:true});T(1068,2450,"A",{size:27,anchor:"middle",mid:true});
const xGe=d3.scaleLinear().domain([-2,2]).range([1196,1372]);
grad("gGe",[[0,ge(-100)],[.04,ge(-100)],[.27,ge(-50)],[.5,"#fff"],[.73,ge(50)],[.96,ge(100)],[1,ge(100)]],1,0);
svg.append("rect").attr("x",1189).attr("y",2401).attr("width",192).attr("height",32).attr("fill","url(#gGe)");
geneTicks.forEach(t=>{[2401,2428].forEach(yy=>svg.append("rect").attr("x",xGe(t)-1).attr("y",yy).attr("width",2).attr("height",5).attr("fill","#fff"));
 T(xGe(t),2450,(t<0?"\u2212":"")+Math.abs(t),{size:27,anchor:"middle",mid:true});});
</script></body></html>
